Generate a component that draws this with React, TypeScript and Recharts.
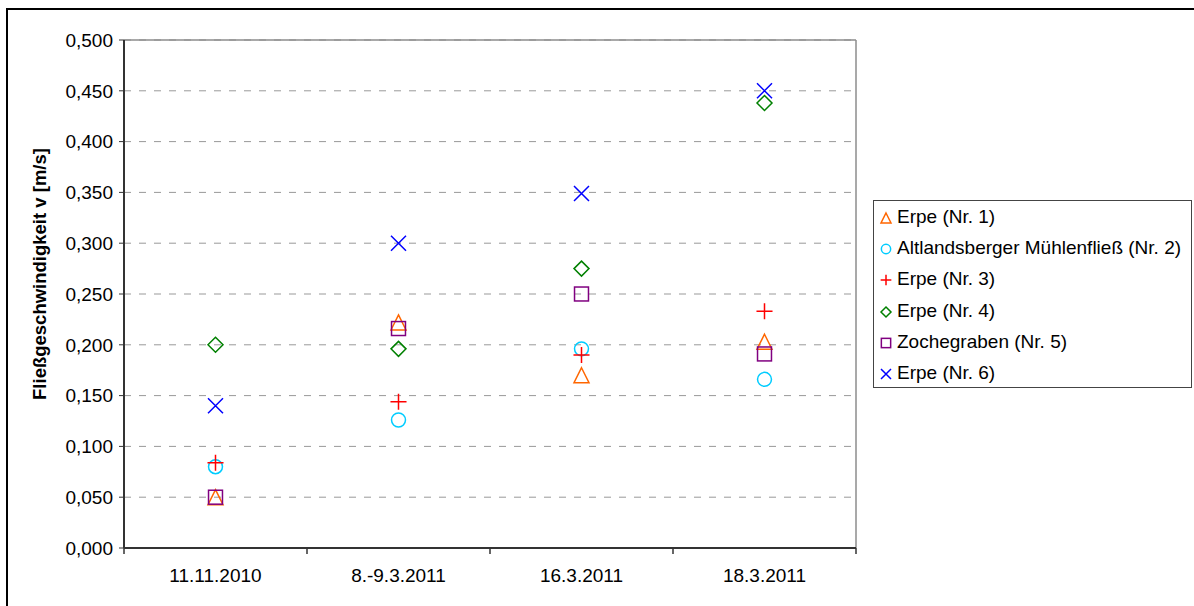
import React from "react";
import {
  ScatterChart,
  Scatter,
  XAxis,
  YAxis,
  CartesianGrid,
  ReferenceLine,
} from "recharts";

const categories = ["11.11.2010", "8.-9.3.2011", "16.3.2011", "18.3.2011"];

const erpe1 = [0.05, 0.222, 0.17, 0.203];
const muehlenfliess2 = [0.08, 0.126, 0.196, 0.166];
const erpe3 = [0.084, 0.144, 0.19, 0.233];
const erpe4 = [0.2, 0.196, 0.275, 0.438];
const zochegraben5 = [0.05, 0.216, 0.25, 0.191];
const erpe6 = [0.14, 0.3, 0.349, 0.45];

const yTicks = [0, 0.05, 0.1, 0.15, 0.2, 0.25, 0.3, 0.35, 0.4, 0.45, 0.5];
const xTicks = [0, 0.5, 1, 1.5, 2, 2.5, 3, 3.5, 4];

const series = [
  { name: "Erpe (Nr. 1)", values: erpe1, kind: "triangle", color: "#ff6600" },
  { name: "Altlandsberger Mühlenfließ (Nr. 2)", values: muehlenfliess2, kind: "circle", color: "#00ccff" },
  { name: "Erpe (Nr. 3)", values: erpe3, kind: "plus", color: "#ff0000" },
  { name: "Erpe (Nr. 4)", values: erpe4, kind: "diamond", color: "#008000" },
  { name: "Zochegraben (Nr. 5)", values: zochegraben5, kind: "square", color: "#800080" },
  { name: "Erpe (Nr. 6)", values: erpe6, kind: "cross", color: "#0000ff" },
];

const FONT = "'Liberation Sans', Arial, sans-serif";

function Marker({ kind, cx, cy, s, color }: any) {
  const p = { fill: "none", stroke: color, strokeWidth: 1.5 };
  switch (kind) {
    case "triangle":
      return <polygon {...p} points={`${cx},${cy - s} ${cx + s},${cy + s} ${cx - s},${cy + s}`} />;
    case "circle":
      return <circle {...p} cx={cx} cy={cy} r={s * 0.93} />;
    case "plus":
      return (
        <path {...p} d={`M${cx - s * 1.07},${cy}H${cx + s * 1.07}M${cx},${cy - s * 1.07}V${cy + s * 1.07}`} />
      );
    case "diamond":
      return <polygon {...p} points={`${cx},${cy - s} ${cx + s},${cy} ${cx},${cy + s} ${cx - s},${cy}`} />;
    case "square":
      return <rect {...p} x={cx - s * 0.93} y={cy - s * 0.93} width={s * 1.86} height={s * 1.86} />;
    default:
      return (
        <path {...p} d={`M${cx - s},${cy - s}L${cx + s},${cy + s}M${cx + s},${cy - s}L${cx - s},${cy + s}`} />
      );
  }
}

// ticks at band edges, labels at band centres
const XTick = ({ x, y, payload }: any) => {
  const v = payload.value;
  if (Number.isInteger(v)) {
    return <line x1={x} x2={x} y1={y} y2={y + 6} stroke="#333" strokeWidth={1.5} />;
  }
  return (
    <text x={x} y={y + 34} textAnchor="middle" fill="#000" fontSize={19} fontFamily={FONT}>
      {categories[Math.floor(v)]}
    </text>
  );
};

export default function App() {
  return (
    <div
      style={{
        position: "absolute",
        left: 0,
        top: 0,
        width: 1194,
        height: 606,
        overflow: "hidden",
        background: "#fff",
        fontFamily: FONT,
      }}
    >
      <div
        style={{
          position: "absolute",
          left: 6,
          top: 8,
          width: 1300,
          height: 700,
          border: "2px solid #000",
        }}
      />
      <div style={{ position: "absolute", left: 0, top: 0 }}>
        <ScatterChart
          width={1194}
          height={606}
          margin={{ top: 40, right: 338, left: 54, bottom: 28 }}
        >
          <CartesianGrid
            vertical={false}
            stroke="#999"
            strokeDasharray="7 8"
          />
          <XAxis
            type="number"
            dataKey="x"
            domain={[0, 4]}
            ticks={xTicks}
            interval={0}
            height={30}
            tickSize={0}
            tickMargin={0}
            tickLine={false}
            axisLine={{ stroke: "#333", strokeWidth: 2 }}
            tick={<XTick />}
          />
          <YAxis
            type="number"
            dataKey="y"
            domain={[0, 0.5]}
            ticks={yTicks}
            interval={0}
            width={70}
            tickSize={5}
            tickMargin={6}
            tickLine={{ stroke: "#333" }}
            axisLine={{ stroke: "#333", strokeWidth: 2 }}
            tickFormatter={(v: number) => v.toFixed(3).replace(".", ",")}
            tick={{ fill: "#000", fontSize: 19, fontFamily: FONT }}
          />
          <ReferenceLine y={0.5} stroke="#8c8c8c" strokeWidth={1.5} />
          <ReferenceLine x={4} stroke="#8c8c8c" strokeWidth={1.5} />
          {series.map((s) => (
            <Scatter
              key={s.name}
              name={s.name}
              data={s.values.map((v, i) => ({ x: i + 0.5, y: v }))}
              isAnimationActive={false}
              shape={(props: any) => (
                <Marker kind={s.kind} cx={props.cx} cy={props.cy} s={7.5} color={s.color} />
              )}
            />
          ))}
        </ScatterChart>
      </div>

      <div
        style={{
          position: "absolute",
          left: 40,
          top: 274,
          transform: "translate(-50%, -50%) rotate(-90deg)",
          whiteSpace: "nowrap",
          fontWeight: "bold",
          fontSize: 18.5,
          color: "#000",
        }}
      >
        Fließgeschwindigkeit v [m/s]
      </div>

      <div
        style={{
          position: "absolute",
          left: 873,
          top: 200,
          width: 319,
          height: 188,
          border: "1px solid #444",
          boxSizing: "border-box",
          background: "#fff",
        }}
      >
        {series.map((s) => (
          <div
            key={s.name}
            style={{
              height: 31.3,
              display: "flex",
              alignItems: "center",
              fontSize: 19,
              color: "#000",
              whiteSpace: "nowrap",
            }}
          >
            <svg width={23} height={20} style={{ flex: "none" }}>
              <Marker kind={s.kind} cx={12} cy={11} s={5} color={s.color} />
            </svg>
            <span>{s.name}</span>
          </div>
        ))}
      </div>
    </div>
  );
}
